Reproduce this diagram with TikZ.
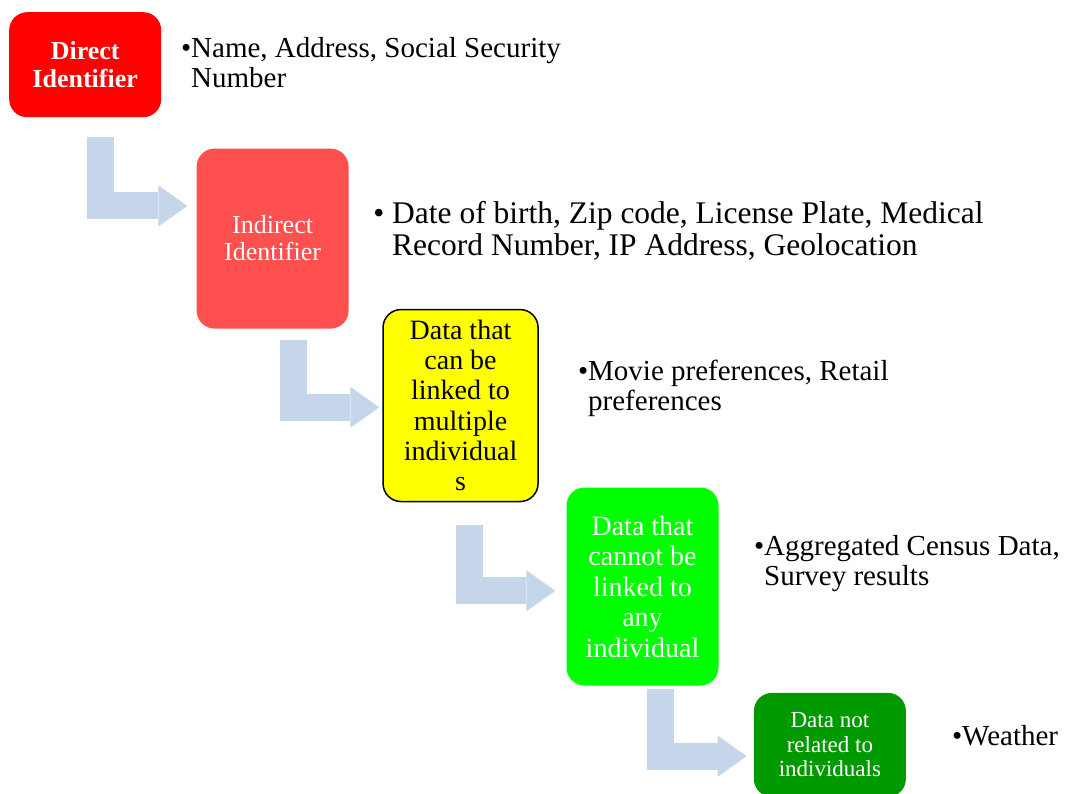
\documentclass[tikz,border=0pt]{standalone}
\usepackage{fontspec}
\setmainfont{Liberation Serif}
\usetikzlibrary{positioning, arrows.meta}

\definecolor{directred}{RGB}{255,0,0}
\definecolor{indirectred}{RGB}{255,80,80}
\definecolor{linkyellow}{RGB}{255,255,0}
\definecolor{unlinkgreen}{RGB}{0,255,0}
\definecolor{unrelgreen}{RGB}{0,153,0}
\definecolor{flowblue}{RGB}{197,213,234}

\begin{document}
\begin{tikzpicture}[
    x=1pt, y=-1pt,
    box/.style={
        rectangle,
        rounded corners=18pt,
        minimum width=152pt,
        inner sep=0pt,
        align=center,
        text=white
    },
    example/.style={
        anchor=base west,
        align=left,
        inner sep=0pt,
        font=\fontsize{29}{30}\selectfont
    },
    flow/.style={
        draw=flowblue,
        line width=27pt,
        -{Triangle[length=29pt 0 0, width=41pt 0 0, line width=0pt 0 0]}
    }
]
\useasboundingbox (0,0) rectangle (1066,794);
\clip (0,0) rectangle (1066,794);

% Identifier boxes - stepping down to the right
\node[box, fill=directred, minimum height=105pt, anchor=north west,
      font=\fontsize{26}{28}\selectfont\bfseries] (direct) at (9,12) {Direct\\Identifier};
\node[box, fill=indirectred, minimum height=180pt, below right=31pt and 35pt of direct,
      font=\fontsize{26}{27}\selectfont] (indirect) {Indirect\\Identifier};
\node[box, fill=linkyellow, draw=black, line width=1.5pt, text=black, minimum width=155pt,
      minimum height=192pt, below right=-20pt and 33.5pt of indirect,
      font=\fontsize{28}{30.3}\selectfont] (linkable)
      {Data that\\can be\\linked to\\multiple\\individual\\s};
\node[box, fill=unlinkgreen, minimum height=198pt, below right=-15pt and 27.5pt of linkable,
      font=\fontsize{28}{30.5}\selectfont] (unlinkable)
      {Data that\\cannot be\\linked to\\any\\individual};
\node[box, fill=unrelgreen, minimum height=104pt, below right=7pt and 35pt of unlinkable,
      font=\fontsize{23}{24.5}\selectfont] (unrelated)
      {Data not\\related to\\individuals};

% Examples next to each box (placed on the baseline of their last line)
\node[example] (ex1) at (191,88) {\llap{•}Name, Address, Social Security\\Number};
\node[example, font=\fontsize{31.5}{32}\selectfont] (ex2) at (392,256)
      {\llap{•\ }Date of birth, Zip code, License Plate, Medical\\Record Number, IP Address, Geolocation};
\node[example] (ex3) at (588,410) {\llap{•}Movie preferences, Retail\\preferences};
\node[example] (ex4) at (764,585) {\llap{•}Aggregated Census Data,\\Survey results};
\node[example] (ex5) at (962,745) {\llap{•}Weather};

% Bent arrows between the boxes
\draw[flow] ([xshift=15.5pt, yshift=-20pt]direct.south) |- ([shift={(-9pt,-57.5pt)}]indirect.north west);
\draw[flow] ([xshift=20.5pt, yshift=-11pt]indirect.south) |- ([shift={(-3pt,-98.5pt)}]linkable.north west);
\draw[flow] ([xshift=8.5pt, yshift=-23pt]linkable.south) |- ([shift={(-11pt,-103.5pt)}]unlinkable.north west);
\draw[flow] ([xshift=17.5pt, yshift=-3pt]unlinkable.south) |- ([shift={(-7pt,-63.5pt)}]unrelated.north west);

\end{tikzpicture}
\end{document}
